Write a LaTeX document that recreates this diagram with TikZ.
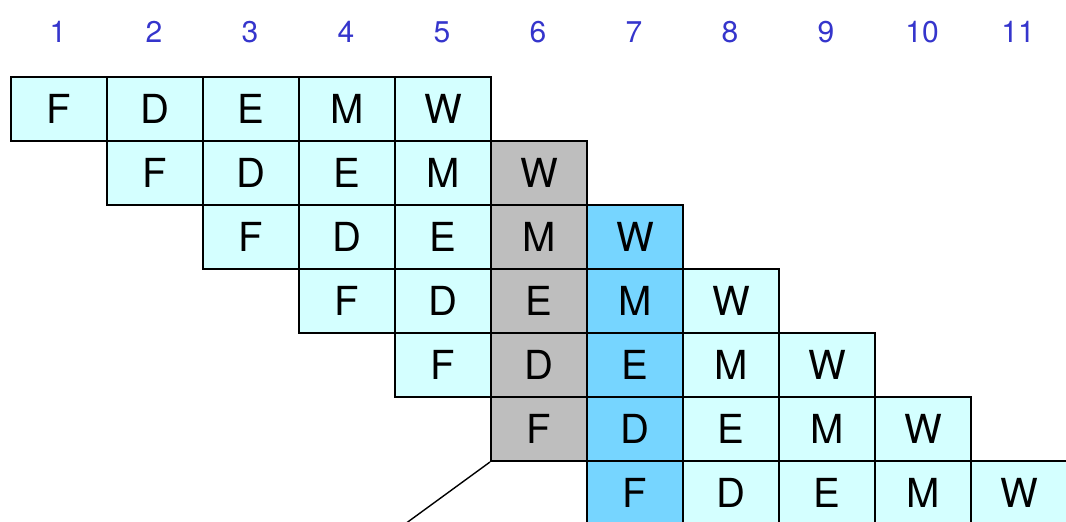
\documentclass[tikz,border=0pt]{standalone}
\usepackage{fontspec}
\setmainfont{TeX Gyre Heros}
\begin{document}
\begin{tikzpicture}[x=1pt,y=-1pt,
  cellbox/.style={draw=black,line width=2pt,minimum width=96pt,minimum height=64pt,inner sep=0pt,anchor=north west,font=\fontsize{40}{42}\selectfont},
  plain/.style={cellbox,fill=cellcyan},
  grey/.style={cellbox,fill=cellgray},
  blue/.style={cellbox,fill=cellblue},
  hdr/.style={text=hdrblue,font=\fontsize{30}{32}\selectfont,inner sep=0pt}]
\definecolor{cellcyan}{HTML}{D4FFFF}
\definecolor{cellgray}{HTML}{BEBEBE}
\definecolor{cellblue}{HTML}{76D5FF}
\definecolor{hdrblue}{HTML}{3535CC}
\useasboundingbox (0,0) rectangle (1066,522);
\clip (0,0) rectangle (1066,522);
\foreach \n in {1,...,11}{
  \node[hdr] (h\n) at ({10+96*(\n-1)+48},32) {\n};
}
\foreach \r in {1,...,7}{
  \foreach \s/\L in {1/F,2/D,3/E,4/M,5/W}{
    \pgfmathtruncatemacro{\col}{\r+\s-1}
    \ifnum\col=6 \def\sty{grey}\else\ifnum\col=7 \def\sty{blue}\else\def\sty{plain}\fi\fi
    \node[\sty] (c\r-\s) at ({10+96*(\col-1)},{76+64*(\r-1)}) {\L};
  }
}
\coordinate (lineend) at (405,524);
\draw[line width=1.4pt] (c6-1.south west) -- (lineend);
\end{tikzpicture}
\end{document}
